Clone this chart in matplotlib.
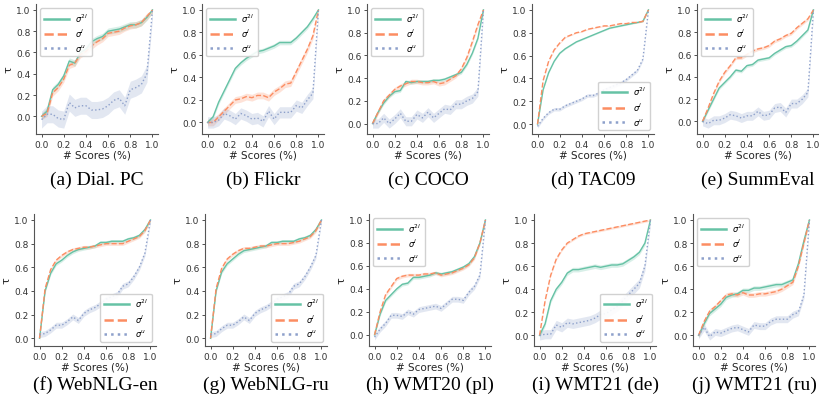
import numpy as np
import matplotlib
matplotlib.use('Agg')
import matplotlib.pyplot as plt

# fraction of scores on the x axis
x = np.linspace(0, 1, 21)

captions = ['(a) Dial. PC', '(b) Flickr', '(c) COCO', '(d) TAC09', '(e) SummEval',
            '(f) WebNLG-en', '(g) WebNLG-ru', '(h) WMT20 (pl)', '(i) WMT21 (de)', '(j) WMT21 (ru)']
labels = [r'$\sigma^{2l}$', r'$\sigma^{l}$', r'$\sigma^{u}$']
legend_loc = ['upper left', 'upper left', 'upper left', 'lower right', 'upper left',
              'lower right', 'lower right', 'upper left', 'lower right', 'upper left']

# sigma^2l
s2l = [
    [0, .05, .25, .3, .38, .52, .5, .6, .63, .7, .73, .75, .8, .81, .82, .84, .86, .86, .88, .93, 1],
    [0, .05, .18, .28, .38, .48, .53, .57, .6, .63, .64, .66, .68, .71, .71, .71, .75, .8, .85, .92, 1],
    [0, .1, .18, .24, .28, .29, .37, .36, .37, .37, .37, .38, .38, .39, .41, .43, .45, .52, .62, .75, 1],
    [0, .3, .45, .55, .62, .66, .69, .72, .74, .76, .78, .8, .82, .84, .85, .86, .87, .88, .89, .9, 1],
    [0, .1, .2, .3, .35, .4, .46, .45, .5, .51, .55, .56, .57, .61, .64, .67, .68, .72, .77, .82, 1],
    [0, .4, .55, .63, .66, .7, .73, .75, .76, .77, .78, .81, .81, .82, .82, .82, .84, .85, .87, .92, 1],
    [0, .4, .56, .63, .67, .71, .74, .75, .76, .77, .78, .81, .81, .82, .82, .82, .84, .85, .87, .92, 1],
    [0, .18, .3, .35, .4, .44, .45, .5, .5, .51, .52, .54, .53, .54, .55, .57, .59, .62, .68, .8, 1],
    [0, .1, .3, .4, .46, .54, .57, .57, .58, .59, .6, .59, .6, .61, .61, .62, .65, .68, .72, .8, 1],
    [0, .1, .19, .23, .27, .33, .35, .36, .39, .39, .41, .41, .42, .43, .44, .44, .46, .48, .62, .82, 1],
]
# sigma^l
sl = [
    [0, .03, .22, .27, .35, .48, .5, .58, .61, .66, .7, .73, .78, .79, .8, .83, .85, .86, .88, .94, 1],
    [0, 0, .05, .1, .15, .2, .21, .23, .22, .24, .24, .22, .27, .3, .34, .35, .45, .55, .65, .77, 1],
    [0, .1, .2, .25, .3, .33, .35, .37, .37, .36, .36, .37, .35, .36, .39, .42, .48, .58, .72, .87, 1],
    [0, .38, .55, .65, .71, .76, .78, .8, .81, .83, .84, .85, .86, .86, .87, .88, .88, .89, .89, .9, 1],
    [0, .12, .25, .36, .44, .5, .57, .57, .6, .63, .65, .66, .68, .72, .74, .77, .79, .84, .88, .92, 1],
    [0, .42, .58, .66, .7, .73, .75, .76, .77, .77, .78, .79, .8, .8, .8, .8, .82, .84, .86, .91, 1],
    [0, .42, .59, .67, .71, .74, .76, .76, .77, .78, .78, .79, .8, .8, .8, .81, .82, .84, .86, .91, 1],
    [0, .2, .35, .42, .49, .51, .52, .52, .52, .53, .53, .54, .52, .53, .54, .56, .58, .61, .67, .8, 1],
    [0, .3, .52, .66, .74, .8, .83, .86, .88, .89, .9, .91, .92, .93, .94, .95, .96, .97, .98, .99, 1],
    [0, .12, .21, .25, .3, .35, .36, .35, .37, .35, .35, .36, .36, .37, .38, .4, .43, .46, .6, .8, 1],
]
# sigma^u
su = [
    [-.03, .02, .02, -.02, -.03, .13, .08, .1, .1, .06, .06, .07, .1, .15, .17, .1, .25, .27, .3, .4, 1],
    [0, 0, .02, .08, .06, .03, .08, .06, .03, .04, .01, .1, .03, .09, .09, .09, .15, .13, .2, .26, 1],
    [0, 0, .05, 0, .04, .09, .02, .02, .08, .05, .1, .05, .09, .13, .12, .17, .17, .2, .22, .28, 1],
    [-.02, .05, .1, .13, .13, .16, .18, .2, .22, .25, .25, .27, .3, .32, .34, .36, .39, .43, .47, .57, 1],
    [0, -.02, .01, .01, .03, .06, .05, .03, .05, .05, .09, .05, .06, .12, .13, .08, .16, .16, .2, .26, 1],
    [.03, .04, .07, .11, .11, .14, .18, .15, .21, .24, .26, .29, .33, .35, .37, .44, .46, .52, .6, .72, 1],
    [.03, .04, .08, .11, .11, .14, .18, .15, .21, .24, .26, .29, .33, .35, .37, .44, .46, .52, .6, .7, 1],
    [-.02, .05, .1, .17, .17, .16, .2, .18, .22, .23, .24, .25, .23, .27, .31, .31, .3, .37, .42, .52, 1],
    [0, .01, .01, .09, .07, .11, .1, .11, .12, .13, .15, .18, .19, .22, .25, .3, .35, .4, .45, .6, 1],
    [0, .07, -.01, .03, .02, .04, .06, .07, .05, .03, .09, .08, .08, .12, .14, .14, .14, .18, .2, .35, 1],
]
# half width of the shaded band for each series
band = [
    [.03, .03, .08], [.02, .03, .05], [.015, .02, .04], [.005, .005, .015], [.015, .015, .04],
    [.015, .015, .025], [.015, .015, .025], [.015, .015, .025], [.02, .01, .04], [.02, .02, .03],
]

colors = ['#66c2a5', '#fc8d62', '#8da0cb']
styles = ['-', '--', ':']

fig = plt.figure(figsize=(8.19, 4.06), dpi=100)
W, H = 819, 406
lefts = [[36, 202, 367, 532, 697], [34, 205, 369, 534, 693]]
rows = [(5, 135), (215, 347)]
cap_y = [180, 385]

for k in range(10):
    r, c = divmod(k, 5)
    top, bot = rows[r]
    l = lefts[r][c]
    ax = fig.add_axes([l / W, 1 - bot / H, 122 / W, (bot - top) / H])
    for s, series in enumerate([s2l[k], sl[k], su[k]]):
        y = np.array(series)
        b = band[k][s]
        ax.fill_between(x, y - b, np.minimum(y + b, 1.0), color=colors[s], alpha=0.25, lw=0)
        ax.plot(x, y, styles[s], color=colors[s], lw=1.0, label=labels[s])
    ax.spines['top'].set_visible(False)
    ax.spines['right'].set_visible(False)
    for sp in ['left', 'bottom']:
        ax.spines[sp].set_linewidth(0.8)
        ax.spines[sp].set_color('#555555')
    ax.set_xticks([0, .2, .4, .6, .8, 1.0])
    ax.set_yticks([0, .2, .4, .6, .8, 1.0])
    ax.tick_params(labelsize=6.5, length=2.5, width=0.6, pad=1.5, colors='#333333')
    ax.set_xlabel('# Scores (%)', fontsize=7.5, labelpad=1, color='#222222')
    ax.set_ylabel('τ', fontsize=8, labelpad=2, color='#222222')
    leg = ax.legend(loc=legend_loc[k], fontsize=6, handlelength=3, labelspacing=0.35,
                    borderpad=0.4, framealpha=0.9, edgecolor='#cccccc', fancybox=True)
    for ln in leg.get_lines():
        ln.set_linewidth(1.8)
    fig.text((l + 61) / W, 1 - cap_y[r] / H, captions[k], ha='center', va='center',
             fontsize=14, family='Liberation Serif')

plt.savefig('out.png', dpi=100)
